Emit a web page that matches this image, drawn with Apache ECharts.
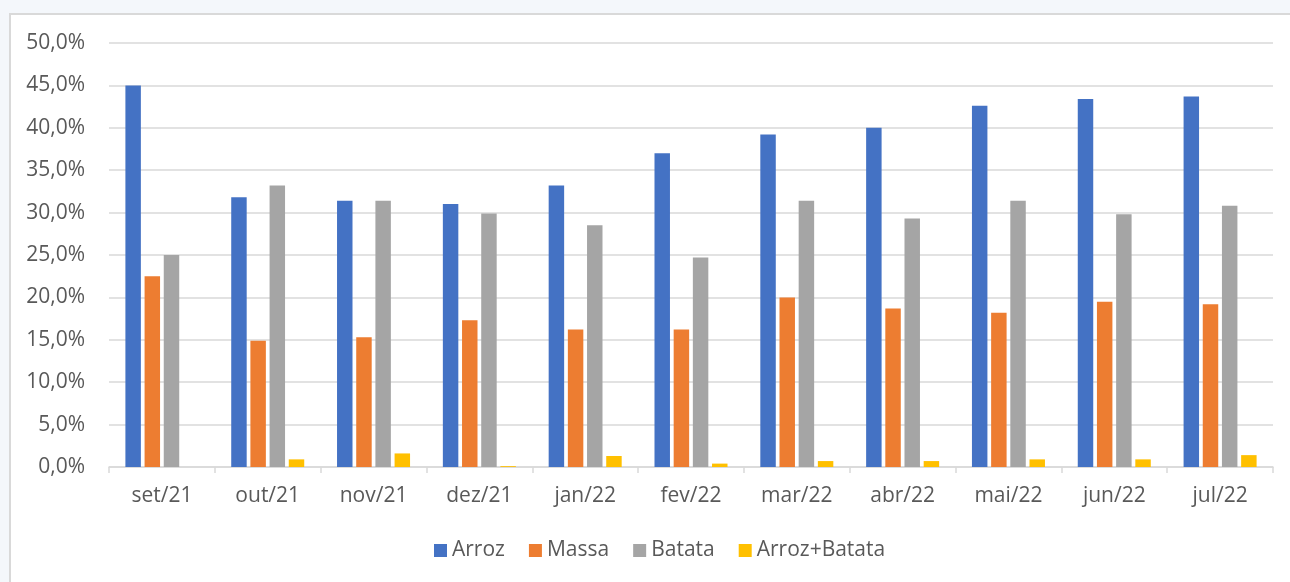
<!DOCTYPE html>
<html>
<head>
  <meta charset="utf-8">
  <title>Arroz Massa Batata</title>
  <script src="https://cdn.jsdelivr.net/npm/echarts@6/dist/echarts.min.js"></script>
  <style>
    html, body { margin: 0; padding: 0; background: #f4f7fb; overflow: hidden; }
    #frame {
      position: absolute; left: 9px; top: 13px; width: 1300px; height: 600px;
      background: #fff; border: 2px solid #d9d9d9; box-sizing: border-box;
    }
    #container { position: absolute; left: 0; top: 0; width: 1290px; height: 582px; }
  </style>
</head>
<body>
  <div id="frame"></div>
  <div id="container"></div>
  <script>
    var months = ['set/21', 'out/21', 'nov/21', 'dez/21', 'jan/22', 'fev/22', 'mar/22', 'abr/22', 'mai/22', 'jun/22', 'jul/22'];
    var arroz = [45.0, 31.8, 31.4, 31.0, 33.2, 37.0, 39.2, 40.0, 42.6, 43.4, 43.7];
    var massa = [22.5, 14.9, 15.3, 17.3, 16.2, 16.2, 20.0, 18.7, 18.2, 19.5, 19.2];
    var batata = [25.0, 33.2, 31.4, 29.9, 28.5, 24.7, 31.4, 29.3, 31.4, 29.8, 30.8];
    var arrozBatata = [0, 0.9, 1.6, 0.1, 1.3, 0.4, 0.7, 0.7, 0.9, 0.9, 1.4];

    var font = '"Open Sans", "Noto Sans", sans-serif';
    var textColor = '#595959';

    var myChart = echarts.init(document.getElementById('container'));

    function bar(name, data, color) {
      return {
        name: name,
        type: 'bar',
        data: data,
        barGap: '24%',
        barCategoryGap: '31%',
        itemStyle: { color: color },
        emphasis: { disabled: true }
      };
    }

    var option = {
      backgroundColor: 'transparent',
      animation: false,
      textStyle: { fontFamily: font },
      grid: { left: 109, right: 17, top: 43, bottom: 115 },
      legend: {
        bottom: 16,
        left: 429,
        itemWidth: 13,
        itemHeight: 13,
        itemGap: 24,
        icon: 'rect',
        textStyle: { color: textColor, fontSize: 21, fontFamily: font },
        data: ['Arroz', 'Massa', 'Batata', 'Arroz+Batata']
      },
      xAxis: {
        type: 'category',
        data: months,
        axisLine: { lineStyle: { color: '#d9d9d9', width: 1.5 } },
        axisTick: { show: true, length: 6, lineStyle: { color: '#d9d9d9', width: 1.5 } },
        axisLabel: { color: textColor, fontSize: 21, margin: 19 }
      },
      yAxis: {
        type: 'value',
        min: 0,
        max: 50,
        interval: 5,
        axisLine: { show: false },
        axisTick: { show: false },
        splitLine: { lineStyle: { color: '#d9d9d9', width: 1.5 } },
        axisLabel: {
          color: textColor,
          fontSize: 21,
          margin: 24,
          formatter: function (v) { return v.toFixed(1).replace('.', ',') + '%'; }
        }
      },
      series: [
        bar('Arroz', arroz, '#4472C4'),
        bar('Massa', massa, '#ED7D31'),
        bar('Batata', batata, '#A5A5A5'),
        bar('Arroz+Batata', arrozBatata, '#FFC000')
      ]
    };
    myChart.setOption(option);
  </script>
</body>
</html>
